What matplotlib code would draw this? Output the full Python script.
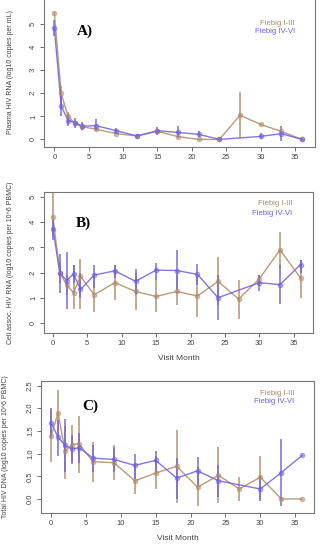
import numpy as np
import matplotlib
matplotlib.use("Agg")
import matplotlib.pyplot as plt

plt.rcParams["font.family"] = ["Liberation Sans", "DejaVu Sans"]

months = [0, 1, 2, 3, 4, 6, 9, 12, 15, 18, 21, 24, 27, 30, 33, 36]
nan = np.nan

# Panel A: plasma HIV RNA
a_early = [5.5, 2.0, 1.0, 0.7, 0.55, 0.45, 0.25, 0.15, 0.35, 0.12, 0.0, 0.0, 1.05, 0.65, 0.35, 0.0]
a_early_lo = [nan, 1.6, 0.7, nan, nan, nan, nan, nan, nan, nan, nan, nan, 0.05, nan, nan, nan]
a_early_hi = [nan, 2.3, 1.2, nan, nan, nan, nan, nan, nan, nan, nan, nan, 2.05, nan, nan, nan]
a_late = [4.85, 1.45, 0.82, 0.73, 0.57, 0.6, 0.38, 0.15, 0.38, 0.3, 0.22, 0.0, nan, 0.13, 0.25, 0.0]
a_late_lo = [4.5, 1.0, 0.6, 0.5, 0.4, 0.35, 0.25, 0.05, 0.2, 0.05, 0.1, nan, nan, 0.0, -0.05, nan]
a_late_hi = [5.2, 1.9, 1.05, 0.95, 0.75, 0.9, 0.5, 0.25, 0.55, 0.6, 0.35, nan, nan, 0.28, 0.6, nan]

# Panel B: cell-associated HIV RNA
b_early = [4.2, 2.0, 1.5, 1.2, 1.85, 1.12, 1.6, 1.25, 1.05, 1.25, 1.07, 1.65, 0.95, 1.75, 2.9, 1.78]
b_early_lo = [3.4, 1.6, 1.1, 0.55, 0.55, 0.45, 0.9, 0.5, 0.45, 0.7, 0.25, 0.7, 0.15, 1.6, 2.2, 1.0]
b_early_hi = [5.5, 2.4, 1.9, 2.3, 2.55, 1.8, 2.3, 2.0, 1.7, 1.9, 1.85, 2.6, 1.7, 1.9, 3.6, 2.5]
b_late = [3.72, 2.0, 1.68, 1.95, 1.33, 1.9, 2.07, 1.65, 2.1, 2.08, 1.93, 1.0, nan, 1.6, 1.52, 2.32]
b_late_lo = [3.3, 1.2, 0.55, 1.6, 1.0, 1.4, 1.8, 1.1, 1.7, 1.3, 1.5, 0.1, nan, 1.25, 0.75, 2.0]
b_late_hi = [4.1, 2.75, 2.8, 2.3, 2.0, 2.3, 2.3, 2.15, 2.4, 2.9, 2.35, 1.9, nan, 1.9, 2.3, 2.5]

# Panel C: total HIV DNA
c_early = [1.38, 1.9, 1.05, 1.2, 1.22, 0.82, 0.8, 0.4, 0.57, 0.72, 0.26, 0.52, 0.22, 0.48, 0.0, 0.0]
c_early_lo = [0.82, 1.35, 0.45, 0.78, 0.58, 0.38, 0.42, 0.1, 0.22, -0.1, -0.15, -0.1, -0.05, 0.0, nan, nan]
c_early_hi = [1.95, 2.4, 1.6, 1.63, 1.83, 1.25, 1.18, 0.75, 0.95, 1.52, 0.7, 1.15, 0.48, 0.95, nan, nan]
c_late = [1.68, 1.36, 1.18, 1.1, 1.13, 0.9, 0.87, 0.74, 0.85, 0.46, 0.62, 0.4, nan, 0.22, 0.58, 0.96]
c_late_lo = [1.35, 0.95, 0.6, 0.8, 0.8, 0.6, 0.6, 0.45, 0.6, 0.0, 0.3, 0.05, nan, -0.05, -0.15, nan]
c_late_hi = [2.0, 1.75, 1.77, 1.4, 1.45, 1.2, 1.15, 1.0, 1.05, 0.9, 0.92, 0.75, nan, 0.5, 1.32, nan]

series_labels = ["Fiebig I-III", "Fiebig IV-VI"]
ylabels = ["Plasma HIV RNA (log10 copies per mL)",
           "Cell assoc. HIV RNA (log10 copies per 10^6 PBMC)",
           "Total HIV DNA (log10 copies per 10^6 PBMC)"]
panel_tags = ["A)", "B)", "C)"]

c_early_col = "#B08A66"
c_late_col = "#6E5FE0"

W, H = 324, 550
fig = plt.figure(figsize=(W / 100, H / 100), dpi=100)

def rect(l, r, t, b):
    return [l / W, 1 - b / H, (r - l) / W, (b - t) / H]

axA = fig.add_axes(rect(44, 315, -4, 147))
axB = fig.add_axes(rect(44, 313, 192, 333))
axC = fig.add_axes(rect(41, 314, 381, 513))

def draw(ax, early, elo, ehi, late, llo, lhi):
    m = np.array(months, float)
    for vals, lo, hi, col in [(early, elo, ehi, c_early_col), (late, llo, lhi, c_late_col)]:
        v = np.array(vals, float)
        lo = np.array(lo, float)
        hi = np.array(hi, float)
        ok = ~np.isnan(v)
        ax.plot(m[ok], v[ok], color=col, lw=1.0, alpha=0.85, zorder=2)
        ax.plot(m[ok], v[ok], 'o', ms=3.4, mfc=col, mec=col, mew=0.6,
                alpha=0.55, zorder=3)
        eb = ~np.isnan(lo)
        ax.vlines(m[eb], lo[eb], hi[eb], color=col, lw=1.2, alpha=0.85, zorder=2)

draw(axA, a_early, a_early_lo, a_early_hi, a_late, a_late_lo, a_late_hi)
draw(axB, b_early, b_early_lo, b_early_hi, b_late, b_late_lo, b_late_hi)
draw(axC, c_early, c_early_lo, c_early_hi, c_late, c_late_lo, c_late_hi)

axA.set_ylim(-0.33, 6.23)
axA.set_yticks([0, 1, 2, 3, 4, 5])
axB.set_ylim(-0.4, 5.2)
axB.set_yticks([0, 1, 2, 3, 4, 5])
axC.set_ylim(-0.31, 2.6)
axC.set_yticks([0.0, 0.5, 1.0, 1.5, 2.0, 2.5])
axC.set_yticklabels(["0.0", "0.5", "1.0", "1.5", "2.0", "2.5"])

xlims = [(-1.5, 37.9), (-1.3, 37.8), (-1.45, 37.7)]
ylab_x = [-0.11, -0.11, -0.117]
tag_pos = [(0.122, 0.768), (0.119, 0.78), (0.15, 0.81)]
leg_pos = [(0.926, 0.82, 0.768), (0.924, 0.915, 0.844), (0.927, 0.909, 0.841)]
for ax, yl, tag, xl, yx, tp, lp in zip([axA, axB, axC], ylabels, panel_tags, xlims,
                                       ylab_x, tag_pos, leg_pos):
    ax.set_xlim(*xl)
    ax.set_xticks([0, 5, 10, 15, 20, 25, 30, 35])
    for s in ax.spines.values():
        s.set_color("#777777")
        s.set_linewidth(0.8)
    ax.tick_params(axis="both", labelsize=5.5, colors="#555555", length=3, width=0.6,
                   labelcolor="#444444", pad=2)
    for lab in ax.get_yticklabels():
        lab.set_rotation(90)
        lab.set_va("center")
    ax.set_ylabel(yl, fontsize=5.0, color="#444444")
    ax.yaxis.set_label_coords(yx, 0.5)
    ax.text(tp[0], tp[1], tag, transform=ax.transAxes,
            fontsize=11, fontweight="bold", family=["Liberation Serif", "DejaVu Serif"],
            ha="left", va="center")
    ax.text(lp[0], lp[1], series_labels[0], transform=ax.transAxes,
            fontsize=5.6, color=c_early_col, ha="right", va="center")
    ax.text(lp[0], lp[2], series_labels[1], transform=ax.transAxes,
            fontsize=5.6, color=c_late_col, ha="right", va="center")

axB.set_xlabel("Visit Month", fontsize=6, color="#444444", labelpad=6)
axC.set_xlabel("Visit Month", fontsize=6, color="#444444", labelpad=6)

fig.savefig("out.png", dpi=100, facecolor="white")
